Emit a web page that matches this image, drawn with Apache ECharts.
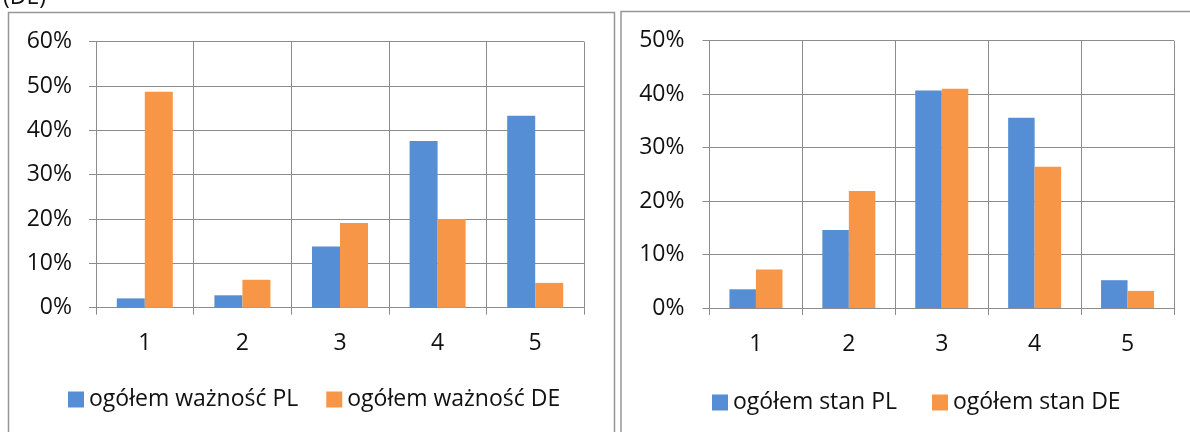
<!DOCTYPE html>
<html>
<head>
<meta charset="utf-8">
<script src="https://cdn.jsdelivr.net/npm/echarts@6/dist/echarts.min.js"></script>
<style>
html,body{margin:0;padding:0;background:#fff;}
#chart{width:1190px;height:432px;}
</style>
</head>
<body>
<div id="chart"></div>
<script>
// ---- data ----
const categories = ['1', '2', '3', '4', '5'];
const leftNames = ['ogółem ważność PL', 'ogółem ważność DE'];
const leftPL = [0.021, 0.028, 0.138, 0.376, 0.433];
const leftDE = [0.487, 0.063, 0.191, 0.200, 0.056];
const rightNames = ['ogółem stan PL', 'ogółem stan DE'];
const rightPL = [0.035, 0.146, 0.407, 0.356, 0.052];
const rightDE = [0.072, 0.219, 0.410, 0.264, 0.032];
const leftMax = 0.6;
const rightMax = 0.5;
const tickStep = 0.1;

const FONT = 'Open Sans';
const FS = 23;
const TXT = '#111';
const GRID = '#8c8c8c';
const BLUE = '#558ed5';
const ORANGE = '#f79646';

const chart = echarts.init(document.getElementById('chart'), null, {renderer: 'canvas'});

function xAxis(gi, margin) {
  return {
    type: 'category', gridIndex: gi, data: categories,
    axisLine: {show: true, lineStyle: {color: GRID, width: 1}},
    axisTick: {show: true, length: 7, lineStyle: {color: GRID, width: 1}},
    splitLine: {show: true, lineStyle: {color: GRID, width: 1}},
    axisLabel: {fontFamily: FONT, fontSize: FS, color: TXT, margin: margin}
  };
}
function yAxis(gi, max, margin) {
  return {
    type: 'value', gridIndex: gi, min: 0, max: max, interval: tickStep,
    axisLine: {show: true, lineStyle: {color: GRID, width: 1}},
    axisTick: {show: true, length: 7, lineStyle: {color: GRID, width: 1}},
    splitLine: {show: true, lineStyle: {color: GRID, width: 1}},
    axisLabel: {fontFamily: FONT, fontSize: FS, color: TXT, margin: margin,
      formatter: v => Math.round(v * 100) + '%'}
  };
}

const option = {
  animation: false,
  backgroundColor: '#fff',
  grid: [
    {left: 96, top: 41.7, width: 488, height: 266, containLabel: false},
    {left: 709.5, top: 40.7, width: 464.5, height: 267.3, containLabel: false}
  ],
  xAxis: [xAxis(0, 24), xAxis(1, 25)],
  yAxis: [yAxis(0, leftMax, 24), yAxis(1, rightMax, 25)],
  legend: [
    {
      data: leftNames, left: 68, top: 388, padding: 0, itemWidth: 16, itemHeight: 16, itemGap: 28,
      icon: 'rect', textStyle: {fontFamily: FONT, fontSize: FS, color: TXT}
    },
    {
      data: rightNames, left: 712, top: 391, padding: 0, itemWidth: 16, itemHeight: 16, itemGap: 35,
      icon: 'rect', textStyle: {fontFamily: FONT, fontSize: FS, color: TXT}
    }
  ],
  graphic: [
    {type: 'rect', shape: {x: 8.5, y: 12.5, width: 606, height: 440}, silent: true,
      style: {fill: 'none', stroke: '#969696', lineWidth: 1.5}},
    {type: 'rect', shape: {x: 621, y: 11.5, width: 620, height: 440}, silent: true,
      style: {fill: 'none', stroke: '#969696', lineWidth: 1.5}},
    {type: 'text', left: 3, top: -14, silent: true,
      style: {text: '(DE)', fontFamily: FONT, fontSize: 23, fill: TXT}}
  ],
  series: [
    {name: leftNames[0], type: 'bar', xAxisIndex: 0, yAxisIndex: 0, data: leftPL,
      barWidth: 28, barGap: '0%', itemStyle: {color: BLUE}},
    {name: leftNames[1], type: 'bar', xAxisIndex: 0, yAxisIndex: 0, data: leftDE,
      barWidth: 28, barGap: '0%', itemStyle: {color: ORANGE}},
    {name: rightNames[0], type: 'bar', xAxisIndex: 1, yAxisIndex: 1, data: rightPL,
      barWidth: 26.5, barGap: '0%', itemStyle: {color: BLUE}},
    {name: rightNames[1], type: 'bar', xAxisIndex: 1, yAxisIndex: 1, data: rightDE,
      barWidth: 26.5, barGap: '0%', itemStyle: {color: ORANGE}}
  ]
};
chart.setOption(option);
</script>
</body>
</html>
